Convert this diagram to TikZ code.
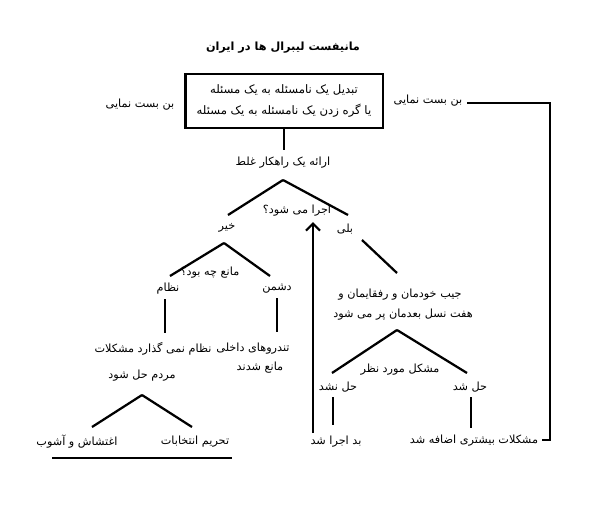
\documentclass[tikz,border=0pt]{standalone}
\usepackage{fontspec}
\usetikzlibrary{arrows.meta}
\newfontfamily\farsi[Script=Arabic]{DejaVu Sans}
\TeXXeTstate=1
\newcommand{\rtl}[1]{\beginR #1\endR}

\begin{document}
\begin{tikzpicture}
[x=0.025cm,y=-0.025cm,
  textdecorate/.style={inner sep=1pt,font=\farsi\fontsize{8}{10}\selectfont},%
  boxdecorate/.style={draw,line width=1.6pt,align=center,minimum width=4.93cm,minimum height=1.35cm,font=\farsi\fontsize{8.3}{15.5}\selectfont},%
  linedecorate/.style={-,line width=1.6pt},%
  arrowdecorate/.style={-{Straight Barb[length=5pt,width=10pt]},line width=1.6pt}]
\useasboundingbox (0,0) rectangle (600,509);
%% main box
\node (box) at (284,101) [boxdecorate]
  {\rtl{تبدیل یک نامسئله به یک مسئله}\\\rtl{یا گره زدن یک نامسئله به یک مسئله}};
%% labels
\foreach \nodename/\x/\y/\txt in {
  title/283/48/{\bfseries مانیفست لیبرال ها در ایران},
  deadendl/140/105/{بن بست نمایی}, deadendr/428/101/{بن بست نمایی},
  wrongway/283/163/{ارائه یک راهکار غلط},
  done/297/211/{اجرا می شود؟}, no/227/228/{خیر}, yes/345/229/{بلی},
  %% left branch
  obstacle/210/273/{مانع چه بود؟}, regime/168/289/{نظام}, enemy/277/289/{دشمن},
  regimea/153/349/{نظام نمی گذارد مشکلات}, regimeb/142/376/{مردم حل شود},
  enemya/253/349/{تندروهای داخلی}, enemyb/260/368/{مانع شدند},
  riot/77/442/{اغتشاش و آشوب}, boycott/195/442/{تحریم انتخابات},
  %% right branch
  pocketa/400/295/{جیب خودمان و رفقایمان و}, pocketb/403/315/{هفت نسل بعدمان پر می شود},
  problem/400/370/{مشکل مورد نظر}, unsolved/338/387/{حل نشد}, solved/470/387/{حل شد},
  badrun/336/442/{بد اجرا شد}, more/474/441/{مشکلات بیشتری اضافه شد}}
{
  \node (\nodename) at (\x,\y) [textdecorate] {\rtl{\txt}};
}
%% line end points
\foreach \pointname/\x/\y in {
  boxfoot/284/150, t0/283/180, t1/228/215, t2/348/215,
  l0/224/243, l1/170/276, l2/270/276, n0/165/299, n1/165/333, d0/277/298, d1/277/332,
  b0/142/395, b1/92/427, b2/192/427, u0/52/458, u1/232/458,
  r0/362/240, r1/397/273, c0/397/330, c1/332/373, c2/467/373,
  h0/333/397, h1/333/425, s0/471/397, s1/471/428,
  a0/313/433, a1/313/222, k0/467/103, k1/550/103, k2/550/440, k3/542/440}
{
  \coordinate (\pointname) at (\x,\y);
}
%% lines
\path
\foreach \startnode/\endnode in {
  box/boxfoot, t0/t1, t0/t2, l0/l1, l0/l2, n0/n1, d0/d1, b0/b1, b0/b2, u0/u1,
  r0/r1, c0/c1, c0/c2, h0/h1, s0/s1}
{
  (\startnode) edge[linedecorate] (\endnode)
};
\draw[linedecorate,line join=miter] (k0) -- (k1) -- (k2) -- (k3);
\draw[arrowdecorate] (a0) -- (a1);
\end{tikzpicture}
\end{document}
